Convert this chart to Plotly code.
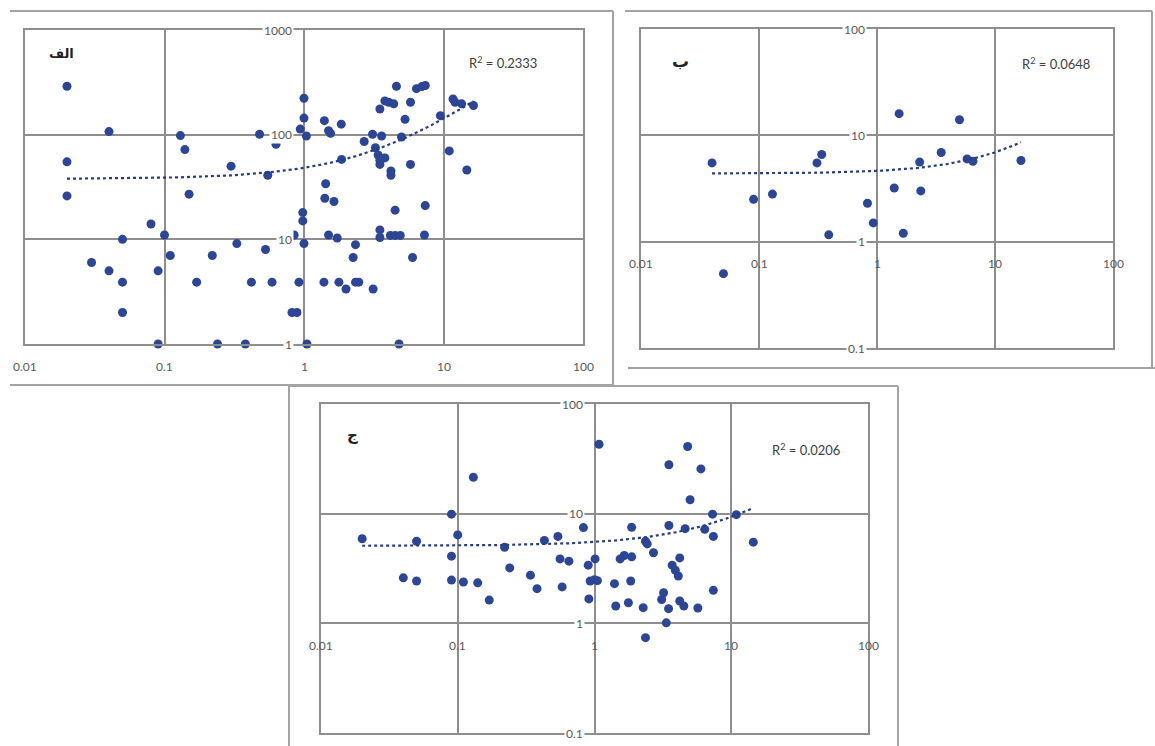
import numpy as np
import plotly.graph_objects as go

# ---------------- data ----------------
A_X = [0.02, 0.04, 0.13, 0.14, 0.02, 0.02, 0.15, 0.3, 0.48, 0.63, 0.63, 0.55,
       1.0, 1.0, 0.94, 1.04, 0.98, 0.98, 0.85, 1.0, 0.08, 0.1, 0.05, 0.03, 0.04,
       0.05, 0.05, 0.09, 0.11, 0.09, 0.17, 0.22, 0.24, 0.33, 0.42, 0.38, 0.53,
       0.59, 0.92, 0.82, 0.89, 1.05,
       4.6, 6.4, 7.0, 7.4, 3.5, 3.8, 4.05, 4.4, 5.8, 5.3, 1.4, 1.85, 1.5, 1.55,
       2.7, 3.1, 3.6, 5.0, 3.25, 3.4, 3.5, 3.8, 3.5, 4.2, 4.2, 5.8, 1.86, 9.5,
       11.7, 12.1, 13.5, 16.4, 11.0, 14.7, 1.43, 1.41, 1.64, 4.5, 7.4, 1.5, 1.73,
       3.5, 3.5, 4.16, 4.5, 4.9, 7.3, 2.34, 2.25, 6.0, 1.39, 1.78, 2.34, 2.47,
       2.0, 3.13, 4.8]
A_Y = [290, 107, 98, 72, 55, 26, 27, 50, 101, 100, 81, 41,
       223, 144, 113, 97, 18, 15, 11, 9.1, 14, 11, 10, 6, 5,
       3.9, 2, 5, 7, 1, 3.9, 7, 1, 9.1, 3.9, 1, 8,
       3.9, 3.9, 2, 2, 1,
       290, 275, 288, 295, 176, 210, 204, 197, 204, 140, 136, 126, 109, 103,
       86, 101, 97, 95, 75, 64, 57, 60, 52, 45, 41, 52, 58, 152,
       219, 204, 197, 190, 70, 46, 34, 24.7, 23, 19, 21, 11, 10.3,
       12.3, 10.4, 10.9, 10.9, 10.9, 11, 8.9, 6.7, 6.7, 3.9, 3.9, 3.9, 3.9,
       3.35, 3.35, 1]

B_X = [0.04, 0.05, 0.09, 0.13, 0.31, 0.34, 0.39, 0.83, 0.93, 1.4, 1.54, 1.67,
       2.3, 2.35, 3.5, 5.0, 5.8, 6.5, 16.6]
B_Y = [5.5, 0.5, 2.5, 2.8, 5.5, 6.6, 1.16, 2.3, 1.5, 3.2, 16, 1.2,
       5.6, 3.0, 6.9, 14, 6.0, 5.7, 5.8]

C_X = [0.02, 0.05, 0.04, 0.05, 0.09, 0.1, 0.09, 0.09, 0.11, 0.14, 0.13, 0.17,
       0.22, 0.24, 0.34, 0.38, 0.43, 0.54, 0.56, 0.65, 0.58, 0.83, 0.9, 1.01,
       0.93, 1.0, 1.05, 0.91, 1.08, 1.87, 3.5, 4.6, 6.4, 7.3, 7.4, 10.9, 14.5,
       4.8, 3.5, 6.0, 5.0, 2.36, 2.43, 2.7, 1.54, 1.65, 1.87, 4.2, 3.7, 3.9, 4.1,
       1.4, 1.84, 1.43, 1.77, 2.27, 3.2, 3.1, 3.48, 4.2, 4.5, 5.7, 7.4, 3.35, 2.36]
C_Y = [5.9, 5.6, 2.6, 2.43, 9.9, 6.4, 4.1, 2.48, 2.38, 2.34, 21.5, 1.63,
       4.94, 3.2, 2.75, 2.07, 5.7, 6.2, 3.87, 3.69, 2.15, 7.46, 3.39, 3.87,
       2.43, 2.5, 2.45, 1.67, 43, 7.5, 7.8, 7.3, 7.2, 9.9, 6.2, 9.8, 5.5,
       41, 27.9, 25.6, 13.4, 5.6, 5.3, 4.4, 3.87, 4.15, 4.04, 3.95, 3.39, 3.05, 2.7,
       2.3, 2.43, 1.44, 1.54, 1.39, 1.9, 1.65, 1.36, 1.6, 1.44, 1.38, 2.0, 1.01, 0.74]

X_TICKS = [0.01, 0.1, 1, 10, 100]
X_TICK_TEXT = ["0.01", "0.1", "1", "10", "100"]
A_Y_TICKS = [1, 10, 100, 1000]
A_Y_TICK_TEXT = ["1", "10", "100", "1000"]
BC_Y_TICKS = [0.1, 1, 10, 100]
BC_Y_TICK_TEXT = ["0.1", "1", "10", "100"]

PANEL_LABELS = ["الف", "ب", "ج"]
PANEL_LABEL_SIZES = [13, 17, 15]
R2_TEXT = ["R<sup>2</sup> = 0.2333", "R<sup>2</sup> = 0.0648", "R<sup>2</sup> = 0.0206"]

# ---------------- styling ----------------
W, H = 1155, 746
MARK = "#2C4596"
TREND = "#263D7E"
GRID = "#8E8E8E"
FRAME = "#A3A3A3"
TXT = "#595959"
FONT = "Lato"


def px(x):
    return x / W


def py(y):
    return 1 - y / H


fig = go.Figure()

panels = [
    dict(x=A_X, y=A_Y, xa="x", ya="y", dom_x=(25, 583), dom_y=(30, 344), yr=[0, 3],
         yt=A_Y_TICKS, ytt=A_Y_TICK_TEXT, xlab_y=1, xlab_shift=-13,
         r2=(0.857, 0.898), lab=(0.066, 0.924)),
    dict(x=B_X, y=B_Y, xa="x2", ya="y2", dom_x=(641, 1113), dom_y=(29, 348), yr=[-1, 2],
         yt=BC_Y_TICKS, ytt=BC_Y_TICK_TEXT, xlab_y=1, xlab_shift=-12,
         r2=(0.879, 0.893), lab=(0.083, 0.900)),
    dict(x=C_X, y=C_Y, xa="x3", ya="y3", dom_x=(321, 868), dom_y=(404, 733), yr=[-1, 2],
         yt=BC_Y_TICKS, ytt=BC_Y_TICK_TEXT, xlab_y=1, xlab_shift=-13,
         r2=(0.887, 0.863), lab=(0.058, 0.906)),
]

annotations = []
for i, p in enumerate(panels):
    xs = np.array(p["x"], dtype=float)
    ys = np.array(p["y"], dtype=float)
    fig.add_trace(go.Scatter(x=xs, y=ys, mode="markers", xaxis=p["xa"], yaxis=p["ya"],
                             marker=dict(size=9, color=MARK), cliponaxis=False,
                             hoverinfo="x+y"))
    # linear least-squares trendline, drawn on the log-log axes
    slope, intercept = np.polyfit(xs, ys, 1)
    tx = np.logspace(np.log10(xs.min()), np.log10(xs.max()), 200)
    fig.add_trace(go.Scatter(x=tx, y=intercept + slope * tx, mode="lines",
                             xaxis=p["xa"], yaxis=p["ya"],
                             line=dict(color=TREND, width=2.2, dash="dot"),
                             hoverinfo="skip"))

    n = "" if i == 0 else str(i + 1)
    axcommon = dict(type="log", showgrid=True, gridcolor=GRID, gridwidth=1.5, dtick=1,
                    showline=True, linecolor=GRID, linewidth=1.5, mirror=True,
                    showticklabels=False, ticks="", zeroline=False)
    fig.update_layout(**{
        "xaxis" + n: dict(domain=[px(p["dom_x"][0]), px(p["dom_x"][1])], anchor="y" + n,
                          range=[-2, 2], **axcommon),
        "yaxis" + n: dict(domain=[py(p["dom_y"][1]), py(p["dom_y"][0])], anchor="x" + n,
                          range=p["yr"], **axcommon),
    })
    # y tick labels sit beside the vertical axis that crosses at x = 1
    for v, t in zip(p["yt"], p["ytt"]):
        annotations.append(dict(x=0, y=np.log10(v), xref=p["xa"], yref=p["ya"], text=t,
                                showarrow=False, xanchor="right", yanchor="middle",
                                xshift=-10, bgcolor="white", borderpad=1,
                                font=dict(family=FONT, size=12, color=TXT)))
    # x tick labels below the horizontal axis that crosses at y = 1
    for v, t in zip(X_TICKS, X_TICK_TEXT):
        annotations.append(dict(x=np.log10(v), y=np.log10(p["xlab_y"]), xref=p["xa"],
                                yref=p["ya"], text=t, showarrow=False, xanchor="center",
                                yanchor="top", yshift=p["xlab_shift"],
                                font=dict(family=FONT, size=12, color=TXT)))
    annotations.append(dict(x=p["r2"][0], y=p["r2"][1], xref=p["xa"] + " domain",
                            yref=p["ya"] + " domain", text=R2_TEXT[i], showarrow=False,
                            xanchor="center", yanchor="middle",
                            font=dict(family=FONT, size=13, color="#404040")))
    annotations.append(dict(x=p["lab"][0], y=p["lab"][1], xref=p["xa"] + " domain",
                            yref=p["ya"] + " domain", text=PANEL_LABELS[i],
                            showarrow=False, xanchor="center", yanchor="middle",
                            font=dict(family="DejaVu Sans", size=PANEL_LABEL_SIZES[i],
                                      color="#222222", weight="bold")))

# outer chart-area frames
frame_segments = [
    (10, 11, 613, 11), (613, 11, 613, 385), (10, 385, 613, 385),          # panel A
    (625, 11, 1152, 11), (1152, 11, 1152, 368), (628, 368, 1155, 368),    # panel B
    (289, 386, 898, 386), (289, 386, 289, 746), (898, 386, 898, 746),     # panel C
]
shapes = [dict(type="line", xref="paper", yref="paper", x0=px(a), y0=py(b), x1=px(c),
               y1=py(d), line=dict(color=FRAME, width=2)) for a, b, c, d in frame_segments]

fig.update_layout(width=W, height=H, margin=dict(l=0, r=0, t=0, b=0),
                  paper_bgcolor="white", plot_bgcolor="white", showlegend=False,
                  annotations=annotations, shapes=shapes)

fig.write_html("out.html", config={"displayModeBar": False},
               post_script="document.body.style.margin='0';"
                           "document.body.style.overflow='hidden';")
